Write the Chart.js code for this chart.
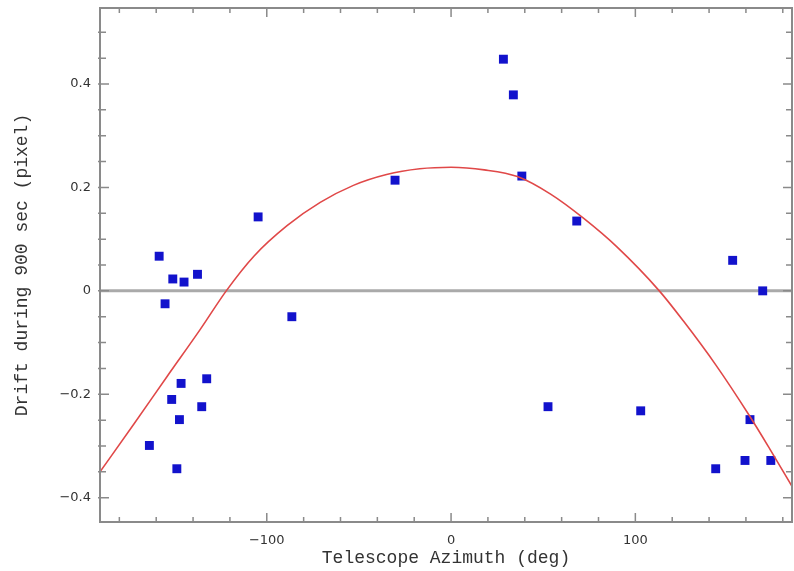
<!DOCTYPE html>
<html>
<head>
<meta charset="utf-8">
<script src="https://cdn.jsdelivr.net/npm/chart.js@4/dist/chart.umd.min.js"></script>
<style>
  html, body { margin: 0; padding: 0; background: #fff; }
  canvas { display: block; }
</style>
</head>
<body>
<canvas id="drift_chart" width="794" height="571"></canvas>
<script>
// Measured drift per telescope azimuth
const azimuth = [-163.7, -158.4, -155.2, -151.0, -151.6, -148.8, -146.5, -147.4, -144.9, -137.6,
                 -135.3, -132.6, -104.7, -86.4, -30.4, 28.4, 33.8, 38.4, 52.6, 68.2,
                 102.9, 143.6, 152.8, 159.5, 162.2, 169.1, 173.5];
const drift = [-0.299, 0.067, -0.025, 0.023, -0.210, -0.344, -0.179, -0.249, 0.017, 0.032,
               -0.224, -0.170, 0.143, -0.050, 0.214, 0.448, 0.379, 0.222, -0.224, 0.135,
               -0.232, -0.344, 0.059, -0.328, -0.249, 0.000, -0.328];

// Fitted curve
const fitAzimuth = [-190.5, -172, -154, -136, -122, -107, -89, -71, -53, -35, -17, 0,
                    18, 36, 54, 72, 90, 113, 126, 144, 162, 173, 185];
const fitDrift = [-0.350, -0.257, -0.165, -0.074, 0.000, 0.067, 0.126, 0.171, 0.204, 0.225, 0.236, 0.239,
                  0.234, 0.221, 0.187, 0.140, 0.085, 0.000, -0.058, -0.145, -0.242, -0.306, -0.378];

// Axis ranges and ticks
const xRange = [-190.5, 185];
const yRange = [-0.447, 0.547];
const xMinorStep = 20, xMajorStep = 100;
const yMinorStep = 0.05, yMajorStep = 0.2;

const axisGray = "#8a8a8a";
const textGray = "#333";

function isMultiple(v, step) {
    const r = v / step;
    return Math.abs(r - Math.round(r)) < 1e-6;
}

// PGPLOT style box with inward ticks on all four sides, plus the zero line
const framePlugin = {
    id: "frame",
    beforeDatasetsDraw(chart) {
        const {ctx, chartArea, scales} = chart;
        const y0 = scales.y.getPixelForValue(0);
        ctx.save();
        ctx.strokeStyle = "#aaaaaa";
        ctx.lineWidth = 3;
        ctx.beginPath();
        ctx.moveTo(chartArea.left, y0);
        ctx.lineTo(chartArea.right, y0);
        ctx.stroke();
        ctx.restore();
    },
    afterDraw(chart) {
        const {ctx, chartArea, scales} = chart;
        const {left, right, top, bottom} = chartArea;
        ctx.save();
        ctx.strokeStyle = axisGray;
        ctx.lineWidth = 1.5;
        ctx.beginPath();
        for (let v = Math.ceil(xRange[0] / xMinorStep) * xMinorStep; v <= xRange[1]; v += xMinorStep) {
            const px = scales.x.getPixelForValue(v);
            const len = isMultiple(v, xMajorStep) ? 9 : 5;
            ctx.moveTo(px, bottom);
            ctx.lineTo(px, bottom - len);
            ctx.moveTo(px, top);
            ctx.lineTo(px, top + len);
        }
        for (let i = Math.ceil(yRange[0] / yMinorStep); i * yMinorStep <= yRange[1]; i++) {
            const v = i * yMinorStep;
            const py = scales.y.getPixelForValue(v);
            const len = isMultiple(v, yMajorStep) ? 9 : 6;
            ctx.moveTo(left - 2, py);
            ctx.lineTo(left + len, py);
            ctx.moveTo(right, py);
            ctx.lineTo(right - len, py);
        }
        ctx.stroke();
        ctx.lineWidth = 2;
        ctx.strokeRect(left, top, right - left, bottom - top);
        ctx.restore();
    }
};

const points = azimuth.map((a, i) => ({x: a, y: drift[i]}));
const fit = fitAzimuth.map((a, i) => ({x: a, y: fitDrift[i]}));

const drift_chart_ctx = document.getElementById("drift_chart").getContext("2d");
const drift_chart = new Chart(drift_chart_ctx, {
    type: "scatter",
    data: {
        datasets: [
            {
                label: "Fit",
                data: fit,
                showLine: true,
                borderColor: "#e04848",
                borderWidth: 1.6,
                pointRadius: 0,
                cubicInterpolationMode: "monotone",
                fill: false,
                order: 0
            },
            {
                label: "Drift",
                data: points,
                pointStyle: "rect",
                pointRadius: 6.3,
                pointBackgroundColor: "#1212cc",
                pointBorderColor: "#1212cc",
                pointBorderWidth: 0,
                order: 1
            }
        ]
    },
    options: {
        responsive: false,
        animation: false,
        devicePixelRatio: 1,
        layout: {
            autoPadding: false,
            padding: {top: 8, right: 2, left: 0, bottom: 0}
        },
        plugins: {
            legend: {display: false},
            tooltip: {enabled: false}
        },
        scales: {
            x: {
                type: "linear",
                min: xRange[0],
                max: xRange[1],
                afterFit: (s) => { s.height = 49; s.paddingLeft = 0; s.paddingRight = 0; },
                grid: {display: false, drawTicks: false},
                border: {display: false},
                ticks: {
                    stepSize: xMinorStep,
                    autoSkip: false,
                    maxRotation: 0,
                    padding: 11,
                    color: textGray,
                    font: {family: "DejaVu Sans", size: 13},
                    callback: (v) => {
                        if (!isMultiple(v, xMajorStep)) return "";
                        const n = Math.round(v);
                        return (n < 0 ? "\u2212" : "") + Math.abs(n);
                    }
                },
                title: {
                    display: true,
                    text: "Telescope Azimuth (deg)",
                    color: textGray,
                    font: {family: "Liberation Mono", size: 18},
                    padding: {top: 0, bottom: 2}
                }
            },
            y: {
                type: "linear",
                min: yRange[0],
                max: yRange[1],
                afterFit: (s) => { s.width = 100; s.paddingTop = 0; s.paddingBottom = 0; },
                grid: {display: false, drawTicks: false},
                border: {display: false},
                ticks: {
                    stepSize: yMinorStep,
                    autoSkip: false,
                    padding: 9,
                    color: textGray,
                    font: {family: "DejaVu Sans", size: 13},
                    callback: (v) => {
                        if (!isMultiple(v, yMajorStep)) return "";
                        const n = Math.round(v / yMajorStep) * yMajorStep;
                        if (Math.abs(n) < 1e-9) return "0";
                        return (n < 0 ? "\u2212" : "") + Math.abs(n).toFixed(1);
                    }
                },
                title: {
                    display: true,
                    text: "Drift during 900 sec (pixel)",
                    color: textGray,
                    font: {family: "Liberation Mono", size: 18},
                    padding: {top: 11, bottom: 0}
                }
            }
        }
    },
    plugins: [framePlugin]
});
</script>
</body>
</html>
